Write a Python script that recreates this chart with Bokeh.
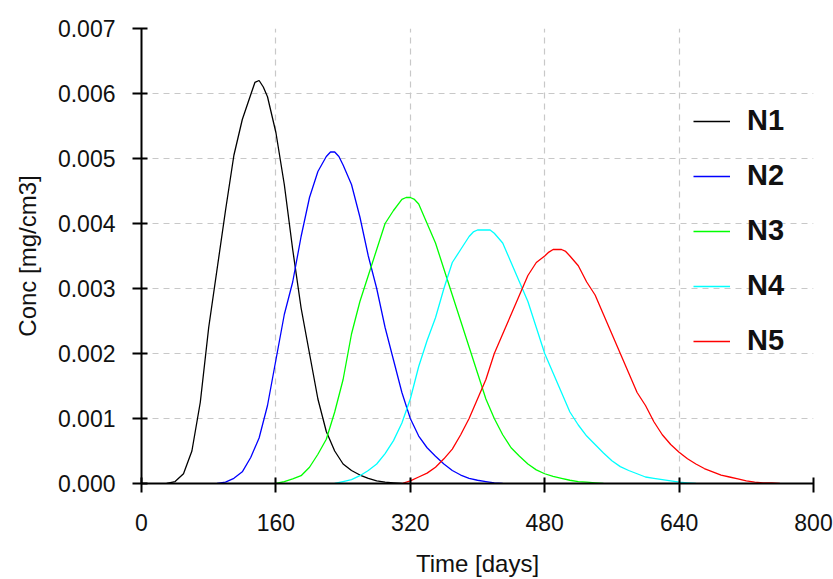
from bokeh.plotting import figure
from bokeh.models import FixedTicker, NumeralTickFormatter, Range1d
from bokeh.embed import file_html
from bokeh.resources import INLINE

# ---- data ----
x_ticks = [0, 160, 320, 480, 640, 800]
y_ticks = [0.0, 0.001, 0.002, 0.003, 0.004, 0.005, 0.006, 0.007]

# values every 10 days from the start day, plus extra readings near each peak
n1_start = 30
n1 = [0, 0.00003, 0.00015, 0.0005, 0.00125, 0.0024, 0.0033, 0.0042, 0.00505, 0.0056,
      0.00598, 0.0062, 0.00595, 0.0054, 0.0046, 0.0036, 0.0027, 0.0020, 0.0013, 0.0008,
      0.0005, 0.0003, 0.0002, 0.00013, 0.00008, 0.00004, 0.00002, 0.00001, 0]
n1_peak_t = [135, 145]
n1_peak_v = [0.00617, 0.0061]

n2_start = 90
n2 = [0, 0.00002, 0.00008, 0.00018, 0.0004, 0.0007, 0.0012, 0.0019, 0.0026, 0.0031,
      0.0038, 0.0044, 0.0048, 0.00503, 0.0051, 0.0049, 0.0046, 0.0041, 0.0035, 0.0030,
      0.0024, 0.0019, 0.0014, 0.0010, 0.00073, 0.00055, 0.00042, 0.0003, 0.0002, 0.00013,
      0.00008, 0.00005, 0.00003, 0.00001, 0]
n2_peak_t = [225, 235]
n2_peak_v = [0.0051, 0.00503]

n3_start = 160
n3 = [0, 0.00003, 0.00007, 0.00012, 0.00025, 0.00045, 0.00068, 0.0011, 0.0016, 0.0023,
      0.0028, 0.0032, 0.0036, 0.0040, 0.0042, 0.00437, 0.0044, 0.0043, 0.0040, 0.0037,
      0.0033, 0.0029, 0.0025, 0.0021, 0.0017, 0.0013, 0.0010, 0.00075, 0.00055, 0.00042,
      0.0003, 0.00021, 0.00015, 0.00011, 0.00008, 0.00005, 0.00003, 0.00002, 0.00001, 0]
n3_peak_t = [315, 325]
n3_peak_v = [0.0044, 0.00437]

n4_start = 230
n4 = [0, 0.00003, 0.00006, 0.00012, 0.0002, 0.0003, 0.00046, 0.00066, 0.00093, 0.0013,
      0.0018, 0.0022, 0.00255, 0.0030, 0.0034, 0.0036, 0.0038, 0.0039, 0.0039, 0.00385,
      0.0037, 0.0034, 0.0031, 0.0028, 0.0024, 0.0020, 0.0017, 0.0014, 0.0011, 0.0009,
      0.00073, 0.0006, 0.00047, 0.00035, 0.00026, 0.0002, 0.00015, 0.0001, 0.00008, 0.00006,
      0.00004, 0.00002, 0.00001, 0]
n4_peak_t = [395, 415]
n4_peak_v = [0.00387, 0.0039]

n5_start = 310
n5 = [0, 0.00004, 0.0001, 0.00016, 0.00025, 0.00038, 0.00053, 0.00075, 0.0010, 0.0013,
      0.0016, 0.0020, 0.0023, 0.0026, 0.0029, 0.0032, 0.0034, 0.0035, 0.0036, 0.0036,
      0.0035, 0.00335, 0.0031, 0.0029, 0.0026, 0.0023, 0.0020, 0.0017, 0.0014, 0.0012,
      0.00095, 0.00075, 0.0006, 0.00048, 0.00038, 0.0003, 0.00023, 0.00018, 0.00013, 0.0001,
      0.00007, 0.00004, 0.00002, 0.00001, 0.00001, 0]
n5_peak_t = [485, 495, 505]
n5_peak_v = [0.00356, 0.0036, 0.00357]

series = [("N1", n1_start, n1, n1_peak_t, n1_peak_v, "#000000"),
          ("N2", n2_start, n2, n2_peak_t, n2_peak_v, "#0000ff"),
          ("N3", n3_start, n3, n3_peak_t, n3_peak_v, "#00ff00"),
          ("N4", n4_start, n4, n4_peak_t, n4_peak_v, "#00ffff"),
          ("N5", n5_start, n5, n5_peak_t, n5_peak_v, "#ff0000")]

FONT = "Liberation Sans"

p = figure(width=833, height=579, output_backend="svg", toolbar_location=None,
           x_range=Range1d(0, 800), y_range=Range1d(0, 0.007),
           min_border_left=141, min_border_right=20, min_border_top=28,
           min_border_bottom=95)
p.outline_line_color = None
p.background_fill_color = "white"
p.border_fill_color = "white"

for name, start, vals, pt, pv, col in series:
    t = list(range(start, start + 10 * len(vals), 10))
    pts = sorted(list(zip(t, vals)) + list(zip(pt, pv)))
    p.line([a for a, _ in pts], [b for _, b in pts], line_color=col,
           line_width=1.3, legend_label=name)

for ax in (p.xaxis[0], p.yaxis[0]):
    ax.axis_line_color = "black"
    ax.axis_line_width = 2
    ax.major_tick_line_color = "black"
    ax.major_tick_line_width = 2
    ax.major_tick_in = 6
    ax.major_tick_out = 9
    ax.minor_tick_line_color = None
    ax.major_label_text_font = FONT
    ax.major_label_text_font_size = "23px"
    ax.major_label_text_color = "#111111"
    ax.axis_label_text_font = FONT
    ax.axis_label_text_font_size = "24px"
    ax.axis_label_text_font_style = "normal"
    ax.axis_label_text_color = "#111111"

p.xaxis[0].ticker = FixedTicker(ticks=x_ticks)
p.yaxis[0].ticker = FixedTicker(ticks=y_ticks)
p.yaxis[0].formatter = NumeralTickFormatter(format="0.000")
p.xaxis[0].axis_label = "Time [days]"
p.yaxis[0].axis_label = "Conc [mg/cm3]"
p.xaxis[0].major_label_standoff = 21
p.yaxis[0].major_label_standoff = 17
p.xaxis[0].axis_label_standoff = 16
p.yaxis[0].axis_label_standoff = 14

for g in (p.xgrid[0], p.ygrid[0]):
    g.grid_line_color = "#c8c8c8"
    g.grid_line_width = 1.2
    g.grid_line_dash = "6 5"

lg = p.legend[0]
lg.location = (552, 126)
lg.border_line_color = None
lg.background_fill_alpha = 0
lg.padding = 0
lg.margin = 0
lg.spacing = 22
lg.glyph_width = 37
lg.glyph_height = 30
lg.label_height = 30
lg.label_standoff = 17
lg.label_text_font = FONT
lg.label_text_font_size = "29px"
lg.label_text_font_style = "bold"
lg.label_text_color = "#111111"

open("out.html", "w").write(file_html(p, INLINE))
